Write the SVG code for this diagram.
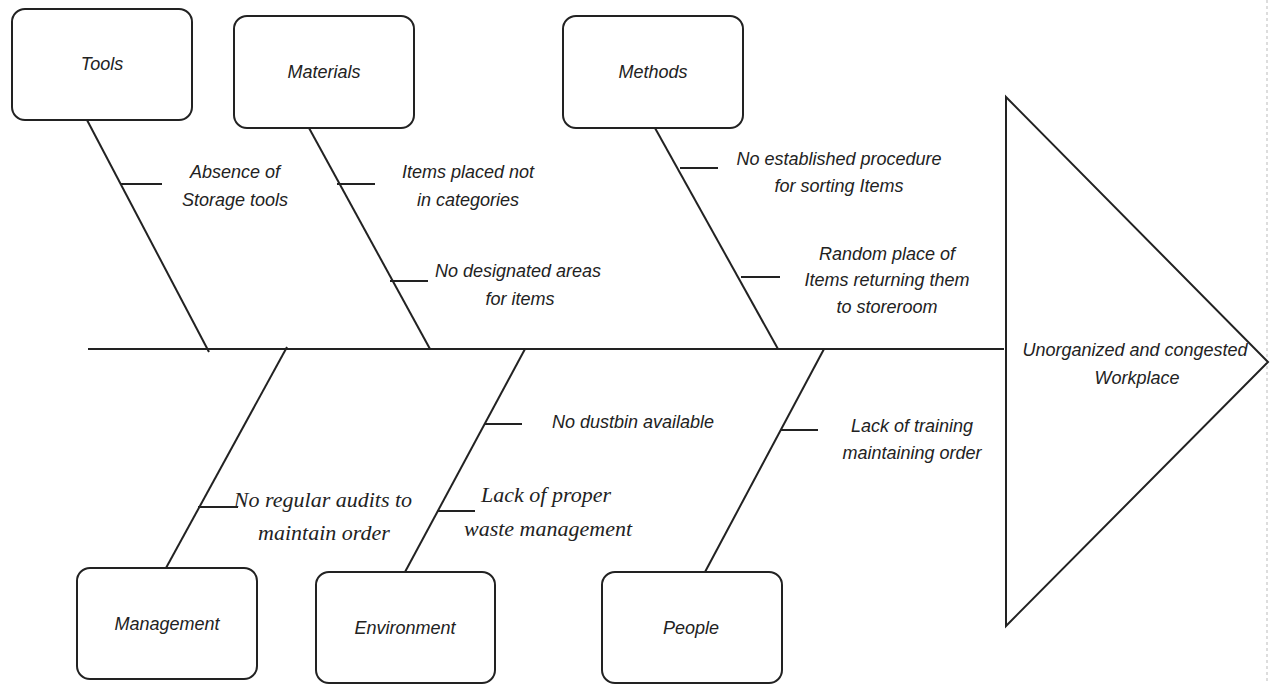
<svg xmlns="http://www.w3.org/2000/svg" width="1271" height="684" viewBox="0 0 1271 684">
<style>
.box{fill:#fff;stroke:#222;stroke-width:2}
.ln{stroke:#222;stroke-width:2;fill:none}
.t{font-family:"Liberation Sans",Arial,sans-serif;font-style:italic;font-size:18px;fill:#222;text-anchor:middle}
.s{font-family:"Liberation Serif","Times New Roman",serif;font-style:italic;font-size:22px;fill:#222;text-anchor:middle}
</style>
<rect width="1271" height="684" fill="#fff"/>
<line x1="1267" y1="0" x2="1267" y2="684" stroke="#bbb" stroke-width="1" stroke-dasharray="3,3"/>
<g id="connectors">
<line class="ln" x1="88" y1="349" x2="1004" y2="349"/>
<line class="ln" x1="87" y1="120" x2="209" y2="352"/>
<line class="ln" x1="309" y1="128" x2="430" y2="349"/>
<line class="ln" x1="655" y1="128" x2="778" y2="349"/>
<line class="ln" x1="287" y1="347" x2="166" y2="568"/>
<line class="ln" x1="525" y1="349" x2="405" y2="572"/>
<line class="ln" x1="824" y1="349" x2="705" y2="572"/>
<line class="ln" x1="121" y1="184" x2="162" y2="184"/>
<line class="ln" x1="337" y1="184" x2="375" y2="184"/>
<line class="ln" x1="390" y1="281" x2="428" y2="281"/>
<line class="ln" x1="680" y1="168" x2="718" y2="168"/>
<line class="ln" x1="741" y1="277" x2="780" y2="277"/>
<line class="ln" x1="484" y1="424" x2="522" y2="424"/>
<line class="ln" x1="437" y1="511" x2="475" y2="511"/>
<line class="ln" x1="198" y1="507" x2="238" y2="507"/>
<line class="ln" x1="780" y1="430" x2="818" y2="430"/>
</g>
<g id="tools"><rect class="box" x="12" y="9" width="180" height="111" rx="13"/><text class="t" x="102" y="70">Tools</text></g>
<g id="materials"><rect class="box" x="234" y="16" width="180" height="112" rx="13"/><text class="t" x="324" y="78">Materials</text></g>
<g id="methods"><rect class="box" x="563" y="16" width="180" height="112" rx="13"/><text class="t" x="653" y="78">Methods</text></g>
<g id="management"><rect class="box" x="77" y="568" width="180" height="111" rx="13"/><text class="t" x="167" y="630">Management</text></g>
<g id="environment"><rect class="box" x="316" y="572" width="179" height="111" rx="13"/><text class="t" x="405" y="634">Environment</text></g>
<g id="people"><rect class="box" x="602" y="572" width="180" height="111" rx="13"/><text class="t" x="691" y="634">People</text></g>
<g id="effect"><polygon class="box" points="1006,97 1268,362 1006,626"/>
<text class="t"><tspan x="1135" y="356">Unorganized and congested</tspan><tspan x="1137" y="384">Workplace</tspan></text></g>
<g id="labels">
<text class="t"><tspan x="235" y="178">Absence of</tspan><tspan x="235" y="206">Storage tools</tspan></text>
<text class="t"><tspan x="468" y="178">Items placed not</tspan><tspan x="468" y="206">in categories</tspan></text>
<text class="t"><tspan x="518" y="277">No designated areas</tspan><tspan x="520" y="305">for items</tspan></text>
<text class="t"><tspan x="839" y="165">No established procedure</tspan><tspan x="839" y="192">for sorting Items</tspan></text>
<text class="t"><tspan x="887" y="260">Random place of</tspan><tspan x="887" y="286">Items returning them</tspan><tspan x="887" y="313">to storeroom</tspan></text>
<text class="t"><tspan x="633" y="428">No dustbin available</tspan></text>
<text class="t"><tspan x="912" y="432">Lack of training</tspan><tspan x="912" y="459">maintaining order</tspan></text>
<text class="s"><tspan x="546" y="502">Lack of proper</tspan><tspan x="548" y="536">waste management</tspan></text>
<text class="s"><tspan x="323" y="507">No regular audits to</tspan><tspan x="324" y="540">maintain order</tspan></text>
</g>
</svg>
